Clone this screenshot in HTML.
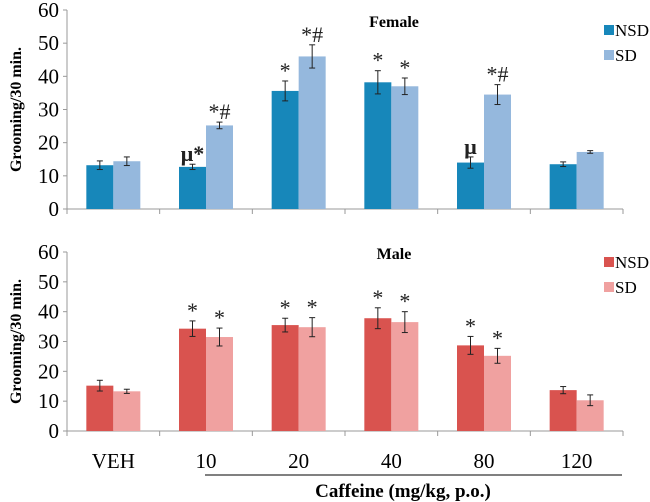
<!DOCTYPE html>
<html><head><meta charset="utf-8"><style>
body{margin:0;background:#fff;}
svg{display:block;font-family:"Liberation Serif",serif;}
</style></head><body>
<svg id="chart" width="650" height="502"></svg>
<script>
const categories=["VEH","10","20","40","80","120"];
const femaleNSD=[13.2,12.7,35.6,38.2,14.0,13.5];
const femaleSD=[14.4,25.2,46.0,37.0,34.5,17.2];
const femaleNSDErr=[1.3,0.8,3.0,3.5,1.7,0.7];
const femaleSDErr=[1.3,1.0,3.5,2.5,3.0,0.4];
const maleNSD=[15.2,34.3,35.5,37.8,28.7,13.7];
const maleSD=[13.3,31.5,34.8,36.5,25.2,10.3];
const maleNSDErr=[1.8,2.6,2.3,3.5,3.0,1.2];
const maleSDErr=[0.7,3.0,3.2,3.5,2.5,1.8];
const femaleNSDMarks=["","μ*","*","*","μ",""];
const femaleSDMarks=["","*#","*#","*","*#",""];
const maleNSDMarks=["","*","*","*","*",""];
const maleSDMarks=["","*","*","*","*",""];
const yTicks=[0,10,20,30,40,50,60];

const NS="http://www.w3.org/2000/svg";
const svg=document.getElementById('chart');
function mk(t,a,p){const e=document.createElementNS(NS,t);for(const k in a)e.setAttribute(k,a[k]);(p||svg).appendChild(e);return e;}
const x0=67,x1=623,bw=27;
const cw=(x1-x0)/categories.length;
const xc=i=>x0+cw*(i+0.5);

function panel(name,y0,y60,nsd,sd,nErr,sErr,nM,sM,c1,c2,title,ly){
  const g=mk('g',{});
  
  
  const ys=v=>y0-(y0-y60)*v/60;
  mk('line',{x1:x0,y1:y0,x2:x0,y2:y60,stroke:'#999'},g);
  yTicks.forEach(t=>{
    mk('line',{x1:x0-4,y1:ys(t),x2:x0,y2:ys(t),stroke:'#999'},g);
    const tx=mk('text',{x:x0-8,y:ys(t)+7,'text-anchor':'end','font-size':21},g);
    tx.textContent=t;
    
    
  });
  mk('line',{x1:x0,y1:y0,x2:x1,y2:y0,stroke:'#999'},g);
  for(let i=0;i<=categories.length;i++) mk('line',{x1:x0+cw*i,y1:y0,x2:x0+cw*i,y2:y0+5,stroke:'#999'},g);
  const yl=mk('text',{x:0,y:0,transform:`translate(21,${(y0+y60)/2}) rotate(-90)`,'text-anchor':'middle','font-size':16,'font-weight':'bold'},g);
  yl.textContent='Grooming/30 min.';
  
  
  const series=[[nsd,nErr,nM,c1,-bw,'nsd'],[sd,sErr,sM,c2,0,'sd']];
  categories.forEach((c,i)=>{
    series.forEach(([vals,errs,marks,col,off,sn])=>{
      const x=xc(i)+off, v=vals[i], e=errs[i];
      const r=mk('rect',{x:x,y:ys(v),width:bw,height:y0-ys(v),fill:col},g);
      
      
      const cx=x+bw/2;
      mk('line',{x1:cx,y1:ys(v+e),x2:cx,y2:ys(v-e),stroke:'#222','stroke-width':1},g);
      mk('line',{x1:cx-3,y1:ys(v+e),x2:cx+3,y2:ys(v+e),stroke:'#222'},g);
      mk('line',{x1:cx-3,y1:ys(v-e),x2:cx+3,y2:ys(v-e),stroke:'#222'},g);
      if(marks[i]){
        const m=mk('text',{x:cx,y:ys(v+e)-3,'text-anchor':'middle','font-size':22,fill:'#222','font-weight':marks[i].startsWith('μ')?'bold':'normal'},g);
        m.textContent=marks[i];
        
        
      }
    });
  });
  const tt=mk('text',{x:394,y:ly,'text-anchor':'middle','font-size':16,'font-weight':'bold'},g);
  tt.textContent=title;
  
  
  [['NSD',c1,ly+8],['SD',c2,ly+33]].forEach(([l,col,yy])=>{
    const le=mk('g',{},g);
    
    
    mk('rect',{x:604,y:yy-10,width:10,height:10,fill:col},le);
    const lt=mk('text',{x:615,y:yy+1,'font-size':17},le);
    lt.textContent=l;
  });
}
panel('female',209,10,femaleNSD,femaleSD,femaleNSDErr,femaleSDErr,femaleNSDMarks,femaleSDMarks,'#1787ba','#95b8dd','Female',27);
panel('male',431,252,maleNSD,maleSD,maleNSDErr,maleSDErr,maleNSDMarks,maleSDMarks,'#d9534f','#f0a1a0','Male',259);
categories.forEach((c,i)=>{
  const t=mk('text',{x:xc(i),y:468,'text-anchor':'middle','font-size':21});
  t.textContent=c;
  
  
});
const ln=mk('line',{x1:205,y1:475,x2:622,y2:475,stroke:'#000'});


const xt=mk('text',{x:403,y:497,'text-anchor':'middle','font-size':19,'font-weight':'bold'});
xt.textContent='Caffeine (mg/kg, p.o.)';


</script>
</body></html>
